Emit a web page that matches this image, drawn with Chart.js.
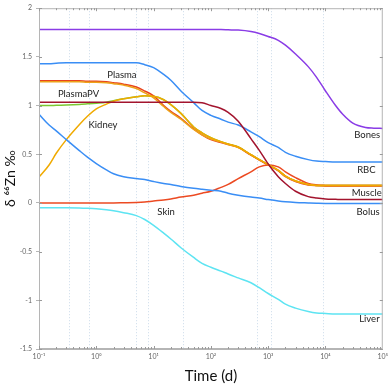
<!DOCTYPE html>
<html>
<head>
<meta charset="utf-8">
<script src="https://cdn.jsdelivr.net/npm/chart.js"></script>
<style>
html, body { margin: 0; padding: 0; background: #fff; }
</style>
</head>
<body>
<canvas id="zn-chart" width="392" height="385"></canvas>
<script>
// time grid (days), shared by every curve
const days = [0.1, 0.15, 0.2, 0.3, 0.5, 0.7, 1, 1.5, 2, 3, 5, 7, 10, 15, 20, 30, 50, 70,
    100, 150, 200, 300, 500, 700, 1000, 1500, 2000, 3000, 5000, 7000,
    10000, 15000, 20000, 30000, 50000, 70000, 100000];

const bones = [1.78, 1.78, 1.78, 1.78, 1.78, 1.78, 1.78, 1.78, 1.78, 1.78, 1.78, 1.78, 1.78, 1.78, 1.78, 1.78, 1.78, 1.78,
    1.78, 1.78, 1.778, 1.775, 1.76, 1.74, 1.71, 1.67, 1.62, 1.53, 1.40, 1.29,
    1.15, 1.00, 0.91, 0.82, 0.775, 0.768, 0.765];
const rbc = [1.43, 1.43, 1.435, 1.44, 1.44, 1.44, 1.44, 1.44, 1.44, 1.44, 1.44, 1.42, 1.39, 1.32, 1.26, 1.15, 1.03, 0.95,
    0.90, 0.86, 0.83, 0.80, 0.73, 0.68, 0.62, 0.57, 0.52, 0.48, 0.445, 0.43,
    0.425, 0.42, 0.42, 0.42, 0.42, 0.42, 0.42];
const plasma = [1.255, 1.255, 1.255, 1.255, 1.255, 1.25, 1.25, 1.245, 1.235, 1.22, 1.19, 1.15, 1.10, 1.00, 0.94, 0.87, 0.76, 0.70,
    0.65, 0.62, 0.60, 0.57, 0.49, 0.44, 0.39, 0.33, 0.27, 0.22, 0.185, 0.178,
    0.175, 0.175, 0.175, 0.175, 0.175, 0.175, 0.175];
const plasmaWB = [1.245, 1.245, 1.245, 1.245, 1.245, 1.24, 1.24, 1.235, 1.225, 1.21, 1.175, 1.13, 1.08, 0.99, 0.93, 0.86, 0.755, 0.70,
    0.655, 0.625, 0.60, 0.57, 0.495, 0.445, 0.395, 0.335, 0.275, 0.225, 0.19, 0.18,
    0.178, 0.178, 0.178, 0.178, 0.178, 0.178, 0.178];
const plasmaPV = [1.0, 1.0, 1.003, 1.006, 1.012, 1.018, 1.025, 1.035, 1.05, 1.07, 1.09, 1.10, 1.095, 1.06, 1.01, 0.92, 0.78, 0.72,
    0.67, 0.63, 0.605, 0.575, 0.495, 0.445, 0.395, 0.335, 0.275, 0.225, 0.19, 0.18,
    0.178, 0.178, 0.178, 0.178, 0.178, 0.178, 0.178];
const kidney = [0.265, 0.39, 0.51, 0.65, 0.80, 0.89, 0.965, 1.015, 1.045, 1.07, 1.09, 1.10, 1.095, 1.06, 1.01, 0.92, 0.78, 0.72,
    0.67, 0.63, 0.605, 0.575, 0.495, 0.445, 0.395, 0.335, 0.275, 0.225, 0.19, 0.18,
    0.178, 0.178, 0.178, 0.178, 0.178, 0.178, 0.178];
const muscle = [1.035, 1.035, 1.035, 1.035, 1.035, 1.035, 1.035, 1.035, 1.035, 1.035, 1.035, 1.035, 1.035, 1.035, 1.035, 1.035, 1.035, 1.03,
    1.00, 0.97, 0.93, 0.84, 0.66, 0.54, 0.40, 0.27, 0.20, 0.12, 0.065, 0.05,
    0.04, 0.037, 0.035, 0.035, 0.035, 0.035, 0.035];
const skin = [0, 0, 0, 0, 0, 0, 0, 0, 0, 0.002, 0.005, 0.01, 0.02, 0.03, 0.04, 0.06, 0.08, 0.10,
    0.12, 0.16, 0.19, 0.25, 0.32, 0.37, 0.39, 0.37, 0.32, 0.26, 0.20, 0.185,
    0.18, 0.178, 0.178, 0.178, 0.178, 0.178, 0.178];
const bolus = [0.91, 0.80, 0.74, 0.65, 0.54, 0.47, 0.405, 0.34, 0.30, 0.27, 0.25, 0.24, 0.22, 0.20, 0.19, 0.17, 0.15, 0.14,
    0.13, 0.12, 0.10, 0.08, 0.06, 0.05, 0.035, 0.02, 0.012, 0.005, 0.0, -0.003,
    -0.005, -0.005, -0.005, -0.005, -0.005, -0.005, -0.005];
const liver = [-0.05, -0.05, -0.05, -0.05, -0.052, -0.055, -0.06, -0.07, -0.08, -0.10, -0.13, -0.17, -0.23, -0.31, -0.37, -0.46, -0.56, -0.62,
    -0.66, -0.70, -0.73, -0.77, -0.82, -0.87, -0.93, -0.99, -1.04, -1.08, -1.115, -1.13,
    -1.135, -1.14, -1.14, -1.14, -1.14, -1.14, -1.14];

// x tick labels
const decadeTicks = [0.1, 1, 10, 100, 1000, 10000, 100000];
const tickLabels = ['10⁻¹', '10⁰', '10¹', '10²', '10³', '10⁴', '10⁵'];

// faint dotted vertical guides
const guideDays = [0.33, 0.74, 5, 8, 33, 650, 1100, 9000];

// curve names written in the plot
const labelNames = ['Plasma', 'PlasmaPV', 'Kidney', 'Skin', 'Bones', 'RBC', 'Muscle', 'Bolus', 'Liver'];
const labelDays = [2.8, 0.49, 1.31, 16.5, 90000, 75000, 96000, 88000, 88000];
const labelVals = [1.31, 1.115, 0.80, -0.09, 0.70, 0.34, 0.107, -0.09, -1.19];
const labelAlign = ['center', 'center', 'center', 'center', 'right', 'right', 'right', 'right', 'right'];

function series(label, values, color) {
    return {
        label: label,
        data: days.map((d, i) => ({x: d, y: values[i]})),
        borderColor: color,
        backgroundColor: color,
        borderWidth: 1.5,
        pointRadius: 0,
        cubicInterpolationMode: 'monotone',
        fill: false
    };
}

// first dataset is drawn on top
const znData = {
    datasets: [
        series('Bones', bones, '#8a3ce6'),
        series('Muscle', muscle, '#a3142e'),
        series('RBC', rbc, '#3a8ef5'),
        series('Bolus', bolus, '#3a8ef5'),
        series('Liver', liver, '#5de4f2'),
        series('Kidney', kidney, '#f0aa00'),
        series('PlasmaWB', plasmaWB, '#eda21a'),
        series('Plasma', plasma, '#e8421e'),
        series('Skin', skin, '#ec4a22'),
        series('PlasmaPV', plasmaPV, '#7cc832')
    ]
};

const guidePlugin = {
    id: 'guides',
    beforeDatasetsDraw(chart) {
        const {ctx, chartArea, scales} = chart;
        ctx.save();
        ctx.strokeStyle = 'rgba(170,195,220,0.6)';
        ctx.lineWidth = 1;
        ctx.setLineDash([1, 2]);
        guideDays.forEach(d => {
            const x = Math.round(scales.x.getPixelForValue(d)) + 0.5;
            ctx.beginPath();
            ctx.moveTo(x, chartArea.top);
            ctx.lineTo(x, chartArea.bottom);
            ctx.stroke();
        });
        ctx.restore();
    }
};

const labelPlugin = {
    id: 'curveLabels',
    afterDatasetsDraw(chart) {
        const {ctx, scales} = chart;
        ctx.save();
        ctx.font = '9.5px Lato, "Open Sans", sans-serif';
        ctx.fillStyle = '#222';
        ctx.textBaseline = 'middle';
        labelNames.forEach((name, i) => {
            ctx.textAlign = labelAlign[i];
            ctx.fillText(name, scales.x.getPixelForValue(labelDays[i]), scales.y.getPixelForValue(labelVals[i]));
        });
        ctx.restore();
    }
};

const framePlugin = {
    id: 'frame',
    afterDraw(chart) {
        const {ctx, chartArea, scales} = chart;
        const {left, right, top, bottom} = chartArea;
        ctx.save();
        ctx.strokeStyle = '#b5b5b5';
        ctx.lineWidth = 1;
        ctx.strokeRect(left + 0.5, top + 0.5, right - left - 1, bottom - top - 1);
        ctx.strokeStyle = '#9a9a9a';
        ctx.beginPath();
        // x minor/major ticks, inside, bottom and top
        for (let e = -1; e <= 4; e++) {
            for (let m = 1; m <= 9; m++) {
                const x = Math.round(scales.x.getPixelForValue(m * Math.pow(10, e))) + 0.5;
                const len = m === 1 ? 3 : 2;
                ctx.moveTo(x, bottom);
                ctx.lineTo(x, bottom - len);
                ctx.moveTo(x, top);
                ctx.lineTo(x, top + len);
            }
        }
        // y ticks, inside, left and right
        scales.y.ticks.forEach(t => {
            const y = Math.round(scales.y.getPixelForValue(t.value)) + 0.5;
            ctx.moveTo(left, y);
            ctx.lineTo(left + 3, y);
            ctx.moveTo(right, y);
            ctx.lineTo(right - 3, y);
        });
        ctx.stroke();
        ctx.restore();
    }
};

const znConfig = {
    type: 'line',
    data: znData,
    options: {
        responsive: false,
        animation: false,
        devicePixelRatio: 1,
        layout: {padding: {top: 4, right: 7, left: 0, bottom: 0}},
        plugins: {
            legend: {display: false},
            tooltip: {enabled: false}
        },
        scales: {
            x: {
                type: 'logarithmic',
                min: 0.1,
                max: 100000,
                afterBuildTicks: scale => {
                    scale.ticks = decadeTicks.map(v => ({value: v}));
                },
                afterFit: scale => { scale.height = 36; },
                grid: {display: true, drawOnChartArea: false, drawTicks: false},
                border: {color: '#b5b5b5'},
                ticks: {
                    autoSkip: false,
                    maxRotation: 0,
                    padding: 4,
                    color: '#666',
                    font: {size: 7, family: 'Lato, "DejaVu Sans", sans-serif'},
                    callback: value => {
                        const i = decadeTicks.indexOf(value);
                        return i >= 0 ? tickLabels[i] : '';
                    }
                },
                title: {
                    display: true,
                    text: 'Time (d)',
                    color: '#111',
                    font: {size: 15, family: 'Lato, "Open Sans", sans-serif'},
                    padding: {top: 3, bottom: 0}
                }
            },
            y: {
                min: -1.5,
                max: 2,
                afterFit: scale => { scale.width = 39; },
                grid: {display: true, drawOnChartArea: false, drawTicks: true, tickLength: 3, color: '#b5b5b5'},
                border: {color: '#b5b5b5'},
                ticks: {
                    stepSize: 0.5,
                    padding: 4,
                    color: '#666',
                    font: {size: 7, family: 'Lato, "DejaVu Sans", sans-serif'},
                    callback: value => String(Math.round(value * 10) / 10)
                },
                title: {
                    display: true,
                    text: 'δ ⁶⁶Zn ‰',
                    color: '#111',
                    font: {size: 14, family: 'Lato, "Open Sans", sans-serif'},
                    padding: {top: 2, bottom: 0}
                }
            }
        }
    },
    plugins: [guidePlugin, labelPlugin, framePlugin]
};

const znChart = new Chart(document.getElementById('zn-chart'), znConfig);
</script>
</body>
</html>
